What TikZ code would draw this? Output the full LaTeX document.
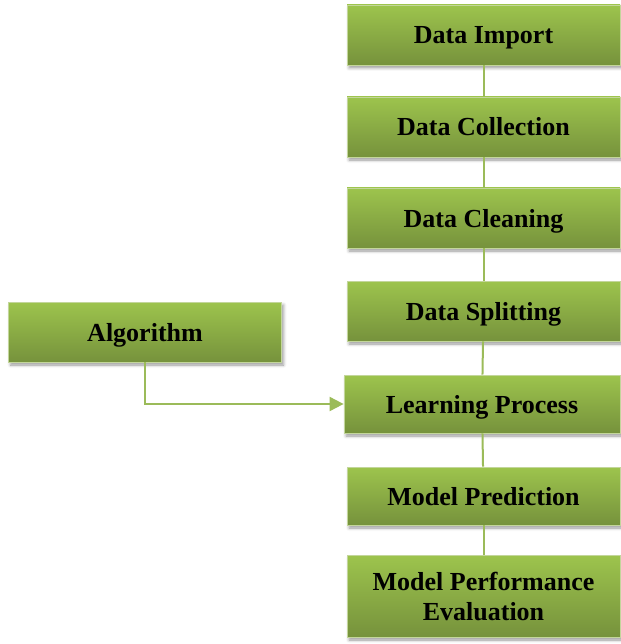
\documentclass[tikz,border=0pt]{standalone}
\usepackage{fontspec}
\setmainfont{Liberation Serif}
\usetikzlibrary{shadows.blur,arrows.meta}
\definecolor{gtop}{HTML}{9DC44D}
\definecolor{gbot}{HTML}{76923C}
\definecolor{gline}{HTML}{9BBB59}
\definecolor{gborder}{HTML}{C3D69B}
\begin{document}
\begin{tikzpicture}[x=1pt,y=-1pt,
  box/.style={draw=gborder, line width=0.8pt, top color=gtop, bottom color=gbot,
    minimum width=273pt, minimum height=60pt, inner sep=0pt, align=center,
    font=\bfseries\fontsize{26}{30}\selectfont,
    blur shadow={shadow xshift=2pt, shadow yshift=-3pt, shadow blur radius=3pt}},
  one/.style={text height=18pt, text depth=0pt},
  conn/.style={draw=gline, line width=2pt}]
\useasboundingbox (0,0) rectangle (620,644);
\node[box, one] (imp) at (483.5,35) {Data Import};
\node[box, one] (col) at (483.5,127) {Data Collection};
\node[box, one] (cle) at (483.5,218) {Data Cleaning};
\node[box, one] (spl) at (483.5,311) {Data Splitting};
\node[box, one, minimum width=276pt, minimum height=58pt] (lp) at (482,404) {Learning Process};
\node[box, one, minimum height=58pt] (mp) at (483.5,496) {Model Prediction};
\node[box, minimum height=82pt] (mpe) at (483.5,596) {\raisebox{-3pt}{Model Performance}\\\raisebox{-3pt}{Evaluation}};
\node[box, one] (alg) at (145,332) {Algorithm};
\draw[conn] (imp) -- (col);
\draw[conn] (col) -- (cle);
\draw[conn] (cle) -- (spl);
\draw[conn] (spl) -- (lp);
\draw[conn] (lp) -- (mp);
\draw[conn] (mp) -- (mpe);
\draw[conn, -{Triangle[length=14pt,width=14pt]}] (alg.south) |- (lp.west);
\end{tikzpicture}
\end{document}
